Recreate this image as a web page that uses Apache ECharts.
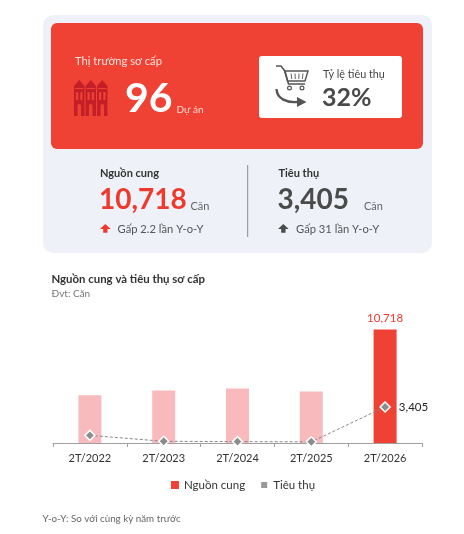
<!DOCTYPE html>
<html>
<head>
<meta charset="utf-8">
<script src="https://cdn.jsdelivr.net/npm/echarts@6/dist/echarts.min.js"></script>
<style>
html,body{margin:0;padding:0;background:#fff;}
#c{width:464px;height:534px;}
</style>
</head>
<body>
<div id="c"></div>
<script>
const categories = ['2T/2022', '2T/2023', '2T/2024', '2T/2025', '2T/2026'];
const supplyValues = [4500, 4950, 5150, 4870, 10718];
const salesValues = [720, 160, 130, 110, 3405];
const seriesNames = ['Nguồn cung', 'Tiêu thụ'];

const FONT = 'Lato, "Noto Sans", sans-serif';
const RED = '#EF4234';
const PINK = '#F9BABD';
const fmt = v => Number(v).toLocaleString('en-US');
const lastIdx = categories.length - 1;

function txt(x, y, text, size, fill, weight, extra) {
  return {
    type: 'text', x: x, y: y, silent: true,
    style: Object.assign({
      text: text, fill: fill, fontSize: size, fontFamily: FONT,
      fontWeight: weight || 'normal', textAlign: 'left', textVerticalAlign: 'middle'
    }, extra || {})
  };
}

function upArrow(x, y, color) {
  return {
    type: 'polygon', silent: true,
    shape: { points: [[x + 5.3, y], [x + 10.7, y + 5], [x + 7.5, y + 5], [x + 7.5, y + 8.7], [x + 3.2, y + 8.7], [x + 3.2, y + 5], [x, y + 5]] },
    style: { fill: color }
  };
}

function building(x0) {
  const w = 10.5, top = 80, bot = 116, dark = '#C41F27';
  return [
    { type: 'polygon', silent: true, shape: { points: [[x0, 86], [x0 + w / 2, top], [x0 + w, 86], [x0 + w, bot], [x0, bot]] }, style: { fill: dark } },
    { type: 'rect', silent: true, shape: { x: x0 + 1, y: 88, width: w - 2, height: 1 }, style: { fill: RED } },
    { type: 'rect', silent: true, shape: { x: x0 + 2, y: 92, width: 2.2, height: 8, r: [1.1, 1.1, 0, 0] }, style: { fill: RED } },
    { type: 'rect', silent: true, shape: { x: x0 + w - 4.2, y: 92, width: 2.2, height: 8, r: [1.1, 1.1, 0, 0] }, style: { fill: RED } },
    { type: 'rect', silent: true, shape: { x: x0 + 3.5, y: 104, width: 3.5, height: 12, r: [1.7, 1.7, 0, 0] }, style: { fill: RED } }
  ];
}

const graphics = [
  { type: 'rect', silent: true, shape: { x: 43, y: 15, width: 389, height: 238, r: 10 }, style: { fill: '#EEF2F8' } },
  { type: 'rect', silent: true, shape: { x: 51, y: 23, width: 372, height: 126, r: 6 }, style: { fill: RED } },
  txt(75, 61, 'Thị trường sơ cấp', 11.2, '#FDE2DC'),
  ...building(74), ...building(85.5), ...building(97),
  txt(125, 99, '96', 41, '#FFFFFF', 'bold'),
  txt(176.5, 110, 'Dự án', 10, '#FCD9D2'),
  { type: 'rect', silent: true, shape: { x: 259, y: 56, width: 143, height: 62, r: 3 }, style: { fill: '#FFFFFF' } },
  // cart icon
  { type: 'polyline', silent: true, shape: { points: [[276, 66], [281, 66], [285, 71], [288.5, 84], [305, 84]] }, style: { stroke: '#555', lineWidth: 1.6, fill: null } },
  { type: 'polygon', silent: true, shape: { points: [[284.5, 71], [308, 71], [305, 81], [287.5, 81]] }, style: { stroke: '#555', lineWidth: 1.4, fill: null } },
  { type: 'line', silent: true, shape: { x1: 291, y1: 73.5, x2: 291.8, y2: 79 }, style: { stroke: '#666', lineWidth: 1 } },
  { type: 'line', silent: true, shape: { x1: 295, y1: 73.5, x2: 295.3, y2: 79 }, style: { stroke: '#666', lineWidth: 1 } },
  { type: 'line', silent: true, shape: { x1: 299, y1: 73.5, x2: 298.8, y2: 79 }, style: { stroke: '#666', lineWidth: 1 } },
  { type: 'line', silent: true, shape: { x1: 303, y1: 73.5, x2: 302.3, y2: 79 }, style: { stroke: '#666', lineWidth: 1 } },
  { type: 'circle', silent: true, shape: { cx: 289.5, cy: 88, r: 1.9 }, style: { stroke: '#555', lineWidth: 1.2, fill: '#fff' } },
  { type: 'circle', silent: true, shape: { cx: 302, cy: 88, r: 1.9 }, style: { stroke: '#555', lineWidth: 1.2, fill: '#fff' } },
  { type: 'bezierCurve', silent: true, shape: { x1: 276.5, y1: 89, cpx1: 277, cpy1: 99, x2: 298, y2: 102, cpx2: 287, cpy2: 103 }, style: { stroke: '#555', lineWidth: 2.4, fill: null } },
  { type: 'polygon', silent: true, shape: { points: [[297, 97], [306.5, 102], [297, 107]] }, style: { fill: '#555' } },
  txt(323, 75, 'Tỷ lệ tiêu thụ', 10.8, '#444'),
  txt(322, 98, '32%', 25, '#4A4A4A', 'bold'),
  // lower stats
  txt(100, 173, 'Nguồn cung', 11, '#333', 'bold'),
  txt(99, 199.5, fmt(supplyValues[lastIdx]), 28, '#EE3A2C', 'bold'),
  txt(190.5, 206.5, 'Căn', 11, '#666'),
  upArrow(100, 224, '#EE3A2C'),
  txt(117.5, 229, 'Gấp 2.2 lần Y-o-Y', 11.2, '#555'),
  { type: 'line', silent: true, shape: { x1: 247.7, y1: 165, x2: 247.7, y2: 237 }, style: { stroke: '#8a8a8a', lineWidth: 1 } },
  txt(278.5, 173, 'Tiêu thụ', 11, '#333', 'bold'),
  txt(277.5, 199.5, fmt(salesValues[lastIdx]), 28, '#4B4B4B', 'bold'),
  txt(364, 206.5, 'Căn', 11, '#666'),
  upArrow(278, 224, '#4B4B4B'),
  txt(296, 229, 'Gấp 31 lần Y-o-Y', 11.2, '#555'),
  // chart title
  txt(51.5, 279.5, 'Nguồn cung và tiêu thụ sơ cấp', 11.4, '#333', 'bold'),
  txt(51.5, 294, 'Đvt: Căn', 10, '#777'),
  txt(42.5, 519, 'Y-o-Y: So với cùng kỳ năm trước', 9.8, '#666')
];

const chart = echarts.init(document.getElementById('c'), null, { renderer: 'canvas' });
chart.setOption({
  animation: false,
  textStyle: { fontFamily: FONT },
  grid: { left: 53, right: 42, top: 300, bottom: 91 },
  legend: {
    left: 166, top: 474, itemWidth: 8, itemHeight: 8, itemGap: 14, icon: 'rect',
    textStyle: { fontSize: 11.5, color: '#333', fontFamily: FONT },
    data: [
      { name: seriesNames[0], itemStyle: { color: RED } },
      { name: seriesNames[1], itemStyle: { color: '#999' } }
    ]
  },
  xAxis: {
    type: 'category', data: categories,
    axisLine: { lineStyle: { color: '#A0A0A0', width: 1 } },
    axisTick: { show: true, length: 4, lineStyle: { color: '#A0A0A0' } },
    axisLabel: { color: '#333', fontSize: 11, margin: 10, fontFamily: FONT }
  },
  yAxis: { type: 'value', min: 0, max: 13500, show: false, splitLine: { show: false } },
  series: [
    {
      name: seriesNames[0], type: 'bar', data: supplyValues, barWidth: 23,
      itemStyle: { color: p => p.dataIndex === lastIdx ? RED : PINK },
      label: {
        show: true, position: 'top', distance: 5, color: '#EE3A2C', fontSize: 11.5, fontFamily: FONT,
        formatter: p => p.dataIndex === lastIdx ? fmt(p.value) : ''
      }
    },
    {
      name: seriesNames[1], type: 'line', data: salesValues, z: 5,
      symbol: 'diamond', symbolSize: 10,
      lineStyle: { color: '#888', width: 1, type: [3, 2] },
      itemStyle: { color: '#8C8C8C', borderColor: '#fff', borderWidth: 1.5 },
      label: {
        show: true, position: 'right', distance: 8, color: '#222', fontSize: 11.5, fontFamily: FONT,
        formatter: p => p.dataIndex === lastIdx ? fmt(p.value) : ''
      }
    }
  ],
  graphic: { elements: graphics }
});
</script>
</body>
</html>
